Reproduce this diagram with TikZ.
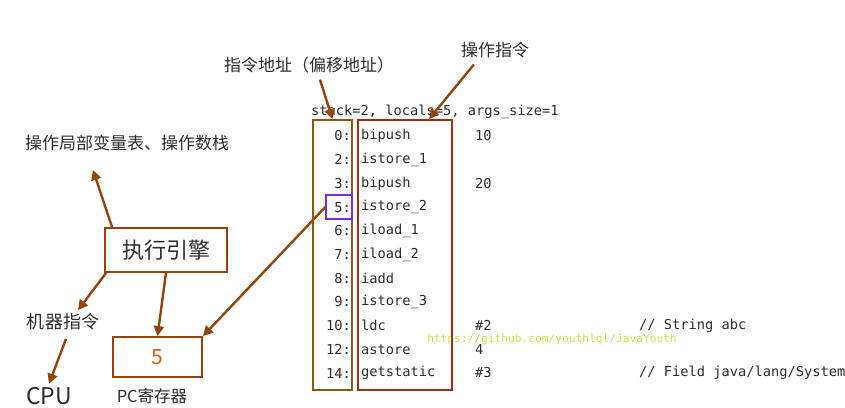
\documentclass[tikz,border=0pt]{standalone}
\usepackage{fontspec}
\setmainfont{Noto Sans CJK SC}
\setmonofont{DejaVu Sans Mono}
\usetikzlibrary{arrows.meta,calc,positioning}
\definecolor{ArrowBrown}{RGB}{150,68,10}
\definecolor{AddrBrown}{RGB}{140,88,20}
\definecolor{CodeRed}{RGB}{160,48,20}
\definecolor{SlotPurple}{RGB}{128,40,230}
\definecolor{TextGray}{RGB}{45,45,45}
\definecolor{PcOrange}{RGB}{215,95,10}
\definecolor{MarkGreen}{RGB}{196,230,80}

\begin{document}
\begin{tikzpicture}[x=1pt,y=-1pt,
  arr/.style={draw=ArrowBrown,line width=2.4pt,-{Triangle[length=10pt,width=10pt]}},
  code/.style={font=\fontsize{13.7}{15}\selectfont\ttfamily,text=TextGray,inner sep=0pt},
  lbl/.style={font=\fontsize{17}{19}\selectfont,text=TextGray}]
\useasboundingbox (0,0) rectangle (845,407);
% bytecode listing
\node[code,anchor=west] (head) at (311,112){stack=2, locals=5, args\_size=1};
\foreach \a/\op/\arg [count=\i from 0] in {0/bipush/10,2/istore\_1/{},3/bipush/20,5/istore\_2/{},
  6/iload\_1/{},7/iload\_2/{},8/iadd/{},9/istore\_3/{},10/ldc/\#2,12/astore/4,14/getstatic/\#3}{
  \node[code,anchor=east] (n\i) at (351,{136+23.7*\i}){\a:};
  \node[code,anchor=west] (op\i) at (361,{136+23.7*\i}){\op};
  \node[code,anchor=west] (arg\i) at (475,{136+23.7*\i}){\arg};}
\node[code,anchor=west] (cm8) at (639,{136+23.7*8}){// String abc};
\node[code,anchor=west] (cm10) at (639,{136+23.7*10}){// Field java/lang/System};
\node[font=\fontsize{11.2}{12}\selectfont\ttfamily,text=MarkGreen] (mark) at (552,339){https://github.com/youthlql/JavaYouth};
\node[draw=AddrBrown,line width=1.8pt,minimum width=39,minimum height=270] (addr) at (332.5,255){};
\node[draw=CodeRed,line width=1.8pt,minimum width=94,minimum height=270] (code) at (405,255){};
\node[draw=SlotPurple,line width=1.3pt,minimum width=26,minimum height=24] (pbox) at (339,207){};
% labels
\node[lbl] (addrlabel) at (309,65){指令地址（偏移地址）};
\node[lbl] (oplabel) at (495,50){操作指令};
\node[lbl] (stack) at (127,143){操作局部变量表、操作数栈};
\node[draw=ArrowBrown,line width=1.8pt,fill=white,minimum width=122,minimum height=44,
  font=\fontsize{22}{24}\selectfont,text=TextGray] (engine) at (166,250){执行引擎};
\node[font=\fontsize{18}{20}\selectfont,text=TextGray] (mi) at (63,322){机器指令};
\node[font=\fontsize{23}{25}\selectfont,text=TextGray] (cpu) at (49,396){CPU};
\node[draw=ArrowBrown,line width=1.8pt,minimum width=89,minimum height=40,
  font=\fontsize{21}{23}\selectfont,text=PcOrange] (pc) at (157.5,357){5};
\node[lbl,font=\fontsize{16.5}{18}\selectfont] (pclabel) at (152,396){PC寄存器};
% connectors
\coordinate (stacktip) at (93,170);
\draw[arr] ($(addrlabel.south)+(11,3)$) -- (addr.north);
\draw[arr] ($(oplabel.south)+(-21,3)$) -- ($(code.north)+(24,0)$);
\draw[arr] ($(engine.north west)+(8,0)$) -- (stacktip);
\draw[arr] ($(engine.south west)+(2,0)$) -- ($(mi.north)+(15,0)$);
\draw[arr] (engine.south) -- (pc.north);
\draw[arr] ($(mi.south)+(3,5)$) -- (cpu.north);
\draw[arr] (pbox.west) -- (pc.north east);
\end{tikzpicture}
\end{document}
